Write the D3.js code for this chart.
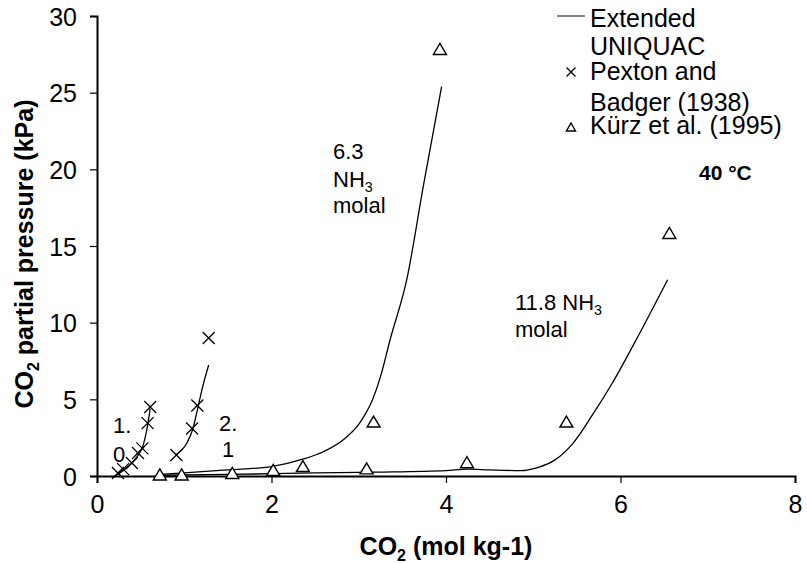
<!DOCTYPE html>
<html><head><meta charset="utf-8">
<script src="https://cdn.jsdelivr.net/npm/d3@7"></script>
<style>body{margin:0;background:#fff}svg{display:block}text{font-family:"Liberation Sans",Arial,sans-serif;fill:#000}</style>
</head><body><svg id="c" width="807" height="563"></svg>
<script>
// Data
const xTicks = [0, 2, 4, 6, 8];
const yTicks = [0, 5, 10, 15, 20, 25, 30];
const pexton10X = [0.24, 0.30, 0.40, 0.47, 0.52, 0.58, 0.61];
const pexton10Y = [0.2, 0.45, 0.85, 1.5, 1.8, 3.45, 4.5];
const pexton21X = [0.91, 1.09, 1.15, 1.28];
const pexton21Y = [1.37, 3.1, 4.6, 9.0];
const kurzX = [0.72, 0.97, 1.55, 2.02, 2.36, 3.09, 3.17, 3.93, 4.24, 5.38, 6.56];
const kurzY = [0.1, 0.1, 0.2, 0.4, 0.65, 0.5, 3.55, 27.85, 0.9, 3.55, 15.85];
const model10X = [0.2, 0.3, 0.4, 0.47, 0.52, 0.57, 0.61];
const model10Y = [0.0, 0.35, 0.85, 1.35, 1.85, 3.0, 4.4];
const model21X = [0.9, 1.03, 1.1, 1.15, 1.21, 1.28];
const model21Y = [1.37, 2.15, 3.1, 4.3, 5.8, 7.24];
const model63X = [0.72, 1.0, 1.5, 1.98, 2.36, 2.6, 2.82, 3.01, 3.16, 3.25, 3.36, 3.55, 3.74, 3.95];
const model63Y = [0.1, 0.2, 0.4, 0.6, 1.1, 1.6, 2.35, 3.45, 5.0, 6.5, 8.9, 12.8, 18.9, 25.4];
const model118X = [0.72, 1.5, 2.5, 3.2, 4.0, 4.25, 4.5, 4.85, 5.05, 5.25, 5.45, 5.68, 5.9, 6.2, 6.54];
const model118Y = [0.05, 0.1, 0.2, 0.25, 0.35, 0.45, 0.4, 0.35, 0.55, 1.05, 2.1, 4.0, 6.0, 9.1, 12.8];

const zip = (xs, ys) => xs.map((x, i) => [x, ys[i]]);
const svg = d3.select("#c");
const x = d3.scaleLinear().domain([0, 8]).range([97, 795]);
const y = d3.scaleLinear().domain([0, 30]).range([476, 16]);

// Axes
const xAxis = svg.append("g").attr("transform", "translate(0,476)")
  .call(d3.axisBottom(x).tickValues(xTicks).tickSize(7).tickPadding(12).tickFormat(d3.format("d")));
const yAxis = svg.append("g").attr("transform", "translate(97,0)")
  .call(d3.axisLeft(y).tickValues(yTicks).tickSize(7).tickPadding(13).tickFormat(d3.format("d")));
[xAxis, yAxis].forEach(a => {
  a.select(".domain").attr("stroke", "#000").attr("stroke-width", 2);
  a.selectAll(".tick line").attr("stroke", "#000").attr("stroke-width", 1.2);
  a.selectAll(".tick text").attr("font-size", 25).attr("font-family", "Liberation Sans, Arial, sans-serif").attr("fill", "#000");
});
yAxis.selectAll(".tick text").attr("dy", "0.36em");
xAxis.selectAll(".tick text").attr("dy", "0.71em");

// Lines
const line = d3.line().x(d => x(d[0])).y(d => y(d[1])).curve(d3.curveMonotoneX);
[[model10X, model10Y], [model21X, model21Y], [model63X, model63Y], [model118X, model118Y]].forEach(([xs, ys]) => {
  svg.append("path").datum(zip(xs, ys)).attr("d", line)
    .attr("fill", "none").attr("stroke", "#000").attr("stroke-width", 1.3);
});

// Markers
const cross = (g, cx, cy, s) => {
  g.append("path").attr("d", `M${cx - s},${cy - s}L${cx + s},${cy + s}M${cx - s},${cy + s}L${cx + s},${cy - s}`)
    .attr("stroke", "#000").attr("stroke-width", 1.3).attr("fill", "none");
};
const tri = (g, cx, cy, w, h) => {
  g.append("path").attr("d", `M${cx},${cy - h / 2}L${cx + w / 2},${cy + h / 2}L${cx - w / 2},${cy + h / 2}Z`)
    .attr("stroke", "#000").attr("stroke-width", 1.4).attr("fill", "#fff");
};
const mk = svg.append("g");
zip(pexton10X, pexton10Y).concat(zip(pexton21X, pexton21Y)).forEach(d => cross(mk, x(d[0]), y(d[1]), 6));
zip(kurzX, kurzY).forEach(d => tri(mk, x(d[0]), y(d[1]), 13, 11));

// Annotations
const ann = (tx, ty, parts, fs) => {
  const t = svg.append("text").attr("x", tx).attr("y", ty).attr("font-size", fs);
  parts.forEach(p => {
    if (p.sub) t.append("tspan").text(p.t).attr("font-size", fs * 0.65).attr("dy", 5);
    else t.append("tspan").text(p.t);
  });
};
ann(333, 159, [{t: "6.3"}], 22);
ann(333, 187, [{t: "NH"}, {t: "3", sub: true}], 22);
ann(333, 213, [{t: "molal"}], 22);
ann(515, 310, [{t: "11.8 NH"}, {t: "3", sub: true}], 22);
ann(515, 337, [{t: "molal"}], 22);
ann(113, 433, [{t: "1."}], 22);
ann(113, 462, [{t: "0"}], 22);
ann(219, 431, [{t: "2."}], 22);
ann(222, 457, [{t: "1"}], 22);
svg.append("text").attr("x", 699).attr("y", 180).attr("font-size", 21).attr("font-weight", "bold")
  .attr("font-family", "Lato, Open Sans, sans-serif").text("40 °C");

// Legend
const lg = svg.append("g");
lg.append("line").attr("x1", 557).attr("x2", 585).attr("y1", 16).attr("y2", 16).attr("stroke", "#333").attr("stroke-width", 1.2);
cross(lg, 571, 72, 4.5);
tri(lg, 571, 127, 9, 8);
[["Extended", 27], ["UNIQUAC", 55], ["Pexton and", 80], ["Badger (1938)", 111], ["Kürz et al. (1995)", 134]].forEach(([s, yy]) => {
  lg.append("text").attr("x", 590).attr("y", yy).attr("font-size", 25).text(s);
});

// Axis titles
const xt = svg.append("text").attr("x", 446).attr("y", 555).attr("text-anchor", "middle")
  .attr("font-size", 25).attr("font-weight", "bold");
xt.append("tspan").text("CO");
xt.append("tspan").text("2").attr("font-size", 16).attr("dy", 6);
xt.append("tspan").text(" (mol kg-1)").attr("dy", -6);
const yt = svg.append("text").attr("transform", "translate(33,254) rotate(-90)").attr("text-anchor", "middle")
  .attr("font-size", 25).attr("font-weight", "bold");
yt.append("tspan").text("CO");
yt.append("tspan").text("2").attr("font-size", 16).attr("dy", 6);
yt.append("tspan").text(" partial pressure (kPa)").attr("dy", -6);
</script></body></html>
